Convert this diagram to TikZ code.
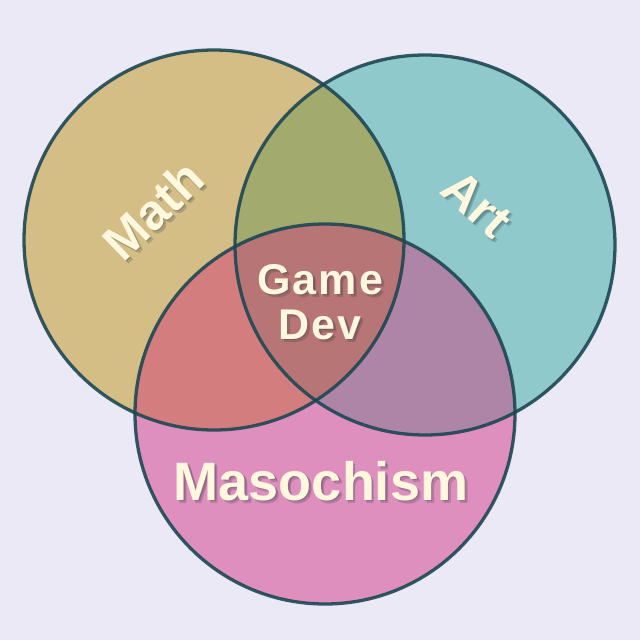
\documentclass[tikz,border=0pt]{standalone}
\usepackage{fontspec}
\setmainfont{Liberation Sans}
\usetikzlibrary{positioning,calc}
\definecolor{bgcol}{HTML}{EAE9F5}
\definecolor{edgecol}{HTML}{1C4853}
\definecolor{mathcol}{HTML}{D4BE85}
\definecolor{artcol}{HTML}{8FC9CB}
\definecolor{masocol}{HTML}{DF8FBE}
\definecolor{mathart}{HTML}{A3AA6E}
\definecolor{mathmaso}{HTML}{D47D7F}
\definecolor{artmaso}{HTML}{AE84A7}
\definecolor{corecol}{HTML}{B87575}
\definecolor{cream}{HTML}{FFF8DF}
\definecolor{shade}{HTML}{24363C}

\begin{document}
\begin{tikzpicture}[x=1pt, y=-1pt,
    ring/.style={draw=edgecol, line width=3.3pt, draw opacity=0.9},
    word/.style={inner sep=0pt, font=\bfseries},
    shadow/.style={word, text=shade, text opacity=0.22}]
    \fill[bgcol] (0,0) rectangle (640,640);
    \coordinate (M) at (214,240);
    \coordinate (A) at (425,245);
    \coordinate (S) at (325,414);
    \def\rad{190pt}
    % plain circles
    \fill[mathcol] (M) circle[radius=\rad];
    \fill[artcol] (A) circle[radius=\rad];
    \fill[masocol] (S) circle[radius=\rad];
    % overlaps
    \begin{scope}
        \clip (A) circle[radius=\rad];
        \fill[artmaso] (S) circle[radius=\rad];
    \end{scope}
    \begin{scope}
        \clip (M) circle[radius=\rad];
        \fill[mathart] (A) circle[radius=\rad];
        \fill[mathmaso] (S) circle[radius=\rad];
        \clip (A) circle[radius=\rad];
        \fill[corecol] (S) circle[radius=\rad];
    \end{scope}
    \draw[ring] (M) circle[radius=\rad];
    \draw[ring] (A) circle[radius=\rad];
    \draw[ring] (S) circle[radius=\rad];
    % labels with soft shadow
    \foreach \dx/\dy [count=\i] in {1.5/1.5, 3/3} {
        \node[shadow, rotate=44, font=\bfseries\fontsize{50}{50}\selectfont]
            (mathsh\i) at ($(153,210)+(\dx,\dy)$) {Math};
        \node[shadow, rotate=-42, font=\bfseries\fontsize{50}{50}\selectfont]
            (artsh\i) at ($(477,204)+(\dx,\dy)$) {Art};
        \node[shadow, anchor=base, align=center,
            font=\bfseries\fontsize{43}{45}\selectfont\addfontfeatures{LetterSpace=5}]
            (coresh\i) at ($(320,339)+(\dx,\dy)$) {Game\\Dev};
        \node[shadow, anchor=base, font=\bfseries\fontsize{54}{54}\selectfont]
            (masosh\i) at ($(321,500)+(\dx,\dy)$) {Masochism};
    }
    \node[word, text=cream, rotate=44, font=\bfseries\fontsize{50}{50}\selectfont]
        (mathlbl) at (153,210) {Math};
    \node[word, text=cream, rotate=-42, font=\bfseries\fontsize{50}{50}\selectfont]
        (artlbl) at (477,204) {Art};
    \node[word, text=cream, anchor=base, align=center,
        font=\bfseries\fontsize{43}{45}\selectfont\addfontfeatures{LetterSpace=5}]
        (corelbl) at (320,339) {Game\\Dev};
    \node[word, text=cream, anchor=base, font=\bfseries\fontsize{54}{54}\selectfont]
        (masolbl) at (321,500) {Masochism};
\end{tikzpicture}
\end{document}
